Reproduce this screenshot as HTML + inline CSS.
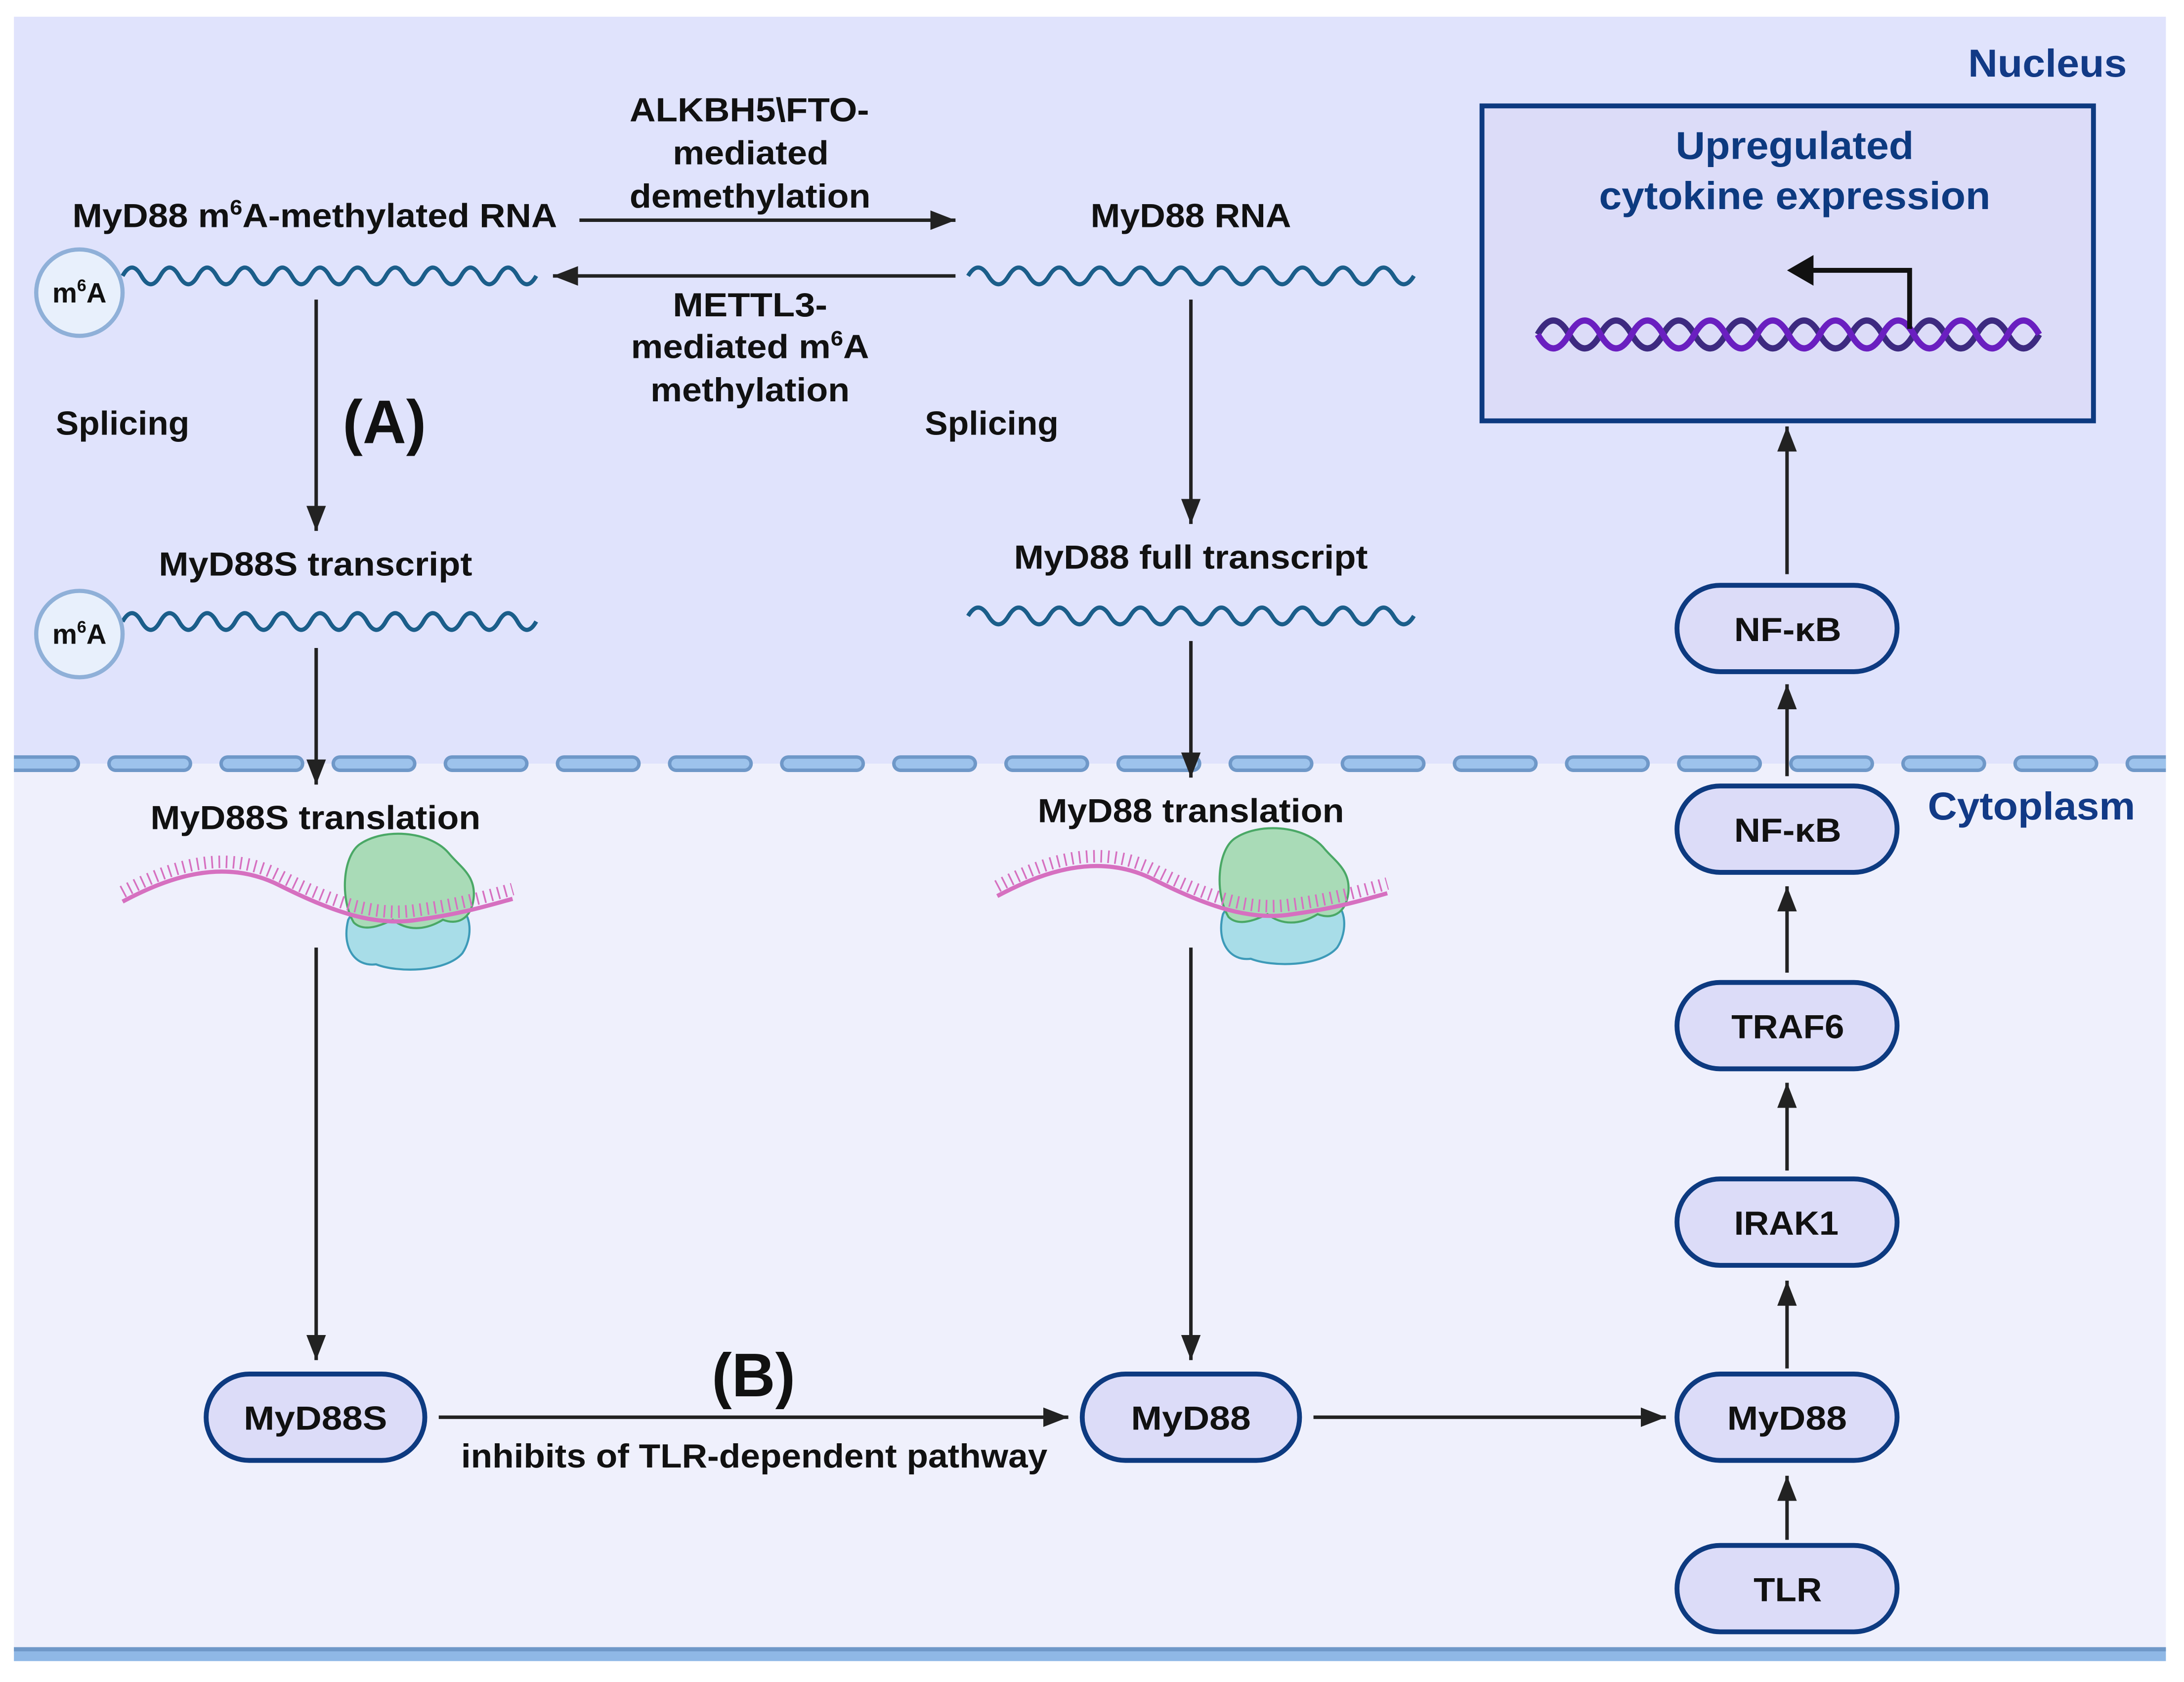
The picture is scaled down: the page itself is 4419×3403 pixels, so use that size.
<!DOCTYPE html>
<html><head><meta charset="utf-8"><style>html,body{margin:0;padding:0;background:#fff}svg{display:block}text{font-family:"Liberation Sans",sans-serif;font-weight:bold}</style></head>
<body>
<svg width="4419" height="3403" viewBox="0 0 1568 1207" preserveAspectRatio="none" xmlns="http://www.w3.org/2000/svg">
<defs>
<marker id="ah" markerUnits="userSpaceOnUse" markerWidth="20" markerHeight="14" refX="18" refY="7" orient="auto"><path d="M0 0 L18 7 L0 14 Z" fill="#222"/></marker>
<clipPath id="cp"><rect x="10" y="530" width="1545" height="40"/></clipPath>
</defs>
<rect x="0" y="0" width="1568" height="1207" fill="#fff"/>
<rect x="10" y="12" width="1545" height="536" fill="#e0e3fc"/>
<rect x="10" y="548" width="1545" height="636" fill="#eff0fc"/>
<rect x="10" y="1182" width="1545" height="10" fill="#8fb8e6"/>
<rect x="10" y="1182" width="1545" height="3" fill="#6f98c8"/>
<g clip-path="url(#cp)">
<line x1="2.5" y1="548" x2="1560" y2="548" stroke="#6f98c8" stroke-width="12" stroke-dasharray="49 31.5" stroke-linecap="round"/>
<line x1="2.5" y1="548" x2="1560" y2="548" stroke="#9dc3ec" stroke-width="7" stroke-dasharray="49 31.5" stroke-linecap="round"/>
</g>
<text x="1527" y="55" text-anchor="end" font-size="28" fill="#123a86" textLength="114" lengthAdjust="spacingAndGlyphs">Nucleus</text>
<text x="1533" y="588" text-anchor="end" font-size="28" fill="#123a86" textLength="149" lengthAdjust="spacingAndGlyphs">Cytoplasm</text>

<!-- box -->
<rect x="1064" y="76" width="439" height="226" fill="#dcdcf8" stroke="#0d3a80" stroke-width="3.5"/>
<text x="1203" y="114" font-size="28" fill="#0d3a80" textLength="171" lengthAdjust="spacingAndGlyphs">Upregulated</text>
<text x="1148" y="150" font-size="28" fill="#0d3a80" textLength="281" lengthAdjust="spacingAndGlyphs">cytokine expression</text>
<path d="M1104 240 q11.25 -20 22.5 0 t22.5 0 t22.5 0 t22.5 0 t22.5 0 t22.5 0 t22.5 0 t22.5 0 t22.5 0 t22.5 0 t22.5 0 t22.5 0 t22.5 0 t22.5 0 t22.5 0 t22.5 0" fill="none" stroke="#3d2a80" stroke-width="4.5"/>
<path d="M1104 240 q11.25 20 22.5 0 t22.5 0 t22.5 0 t22.5 0 t22.5 0 t22.5 0 t22.5 0 t22.5 0 t22.5 0 t22.5 0 t22.5 0 t22.5 0 t22.5 0 t22.5 0 t22.5 0 t22.5 0" fill="none" stroke="#6a1fc0" stroke-width="4.5"/>
<path d="M1371 236 V194 H1300" fill="none" stroke="#111" stroke-width="3.5"/>
<path d="M1283 194 L1302 183 L1302 205 Z" fill="#111"/>

<!-- RNA waves -->
<g fill="none" stroke="#1b5e8a" stroke-width="3">
<path d="M88 198 q6.75 -12 13.5 0 t13.5 0 t13.5 0 t13.5 0 t13.5 0 t13.5 0 t13.5 0 t13.5 0 t13.5 0 t13.5 0 t13.5 0 t13.5 0 t13.5 0 t13.5 0 t13.5 0 t13.5 0 t13.5 0 t13.5 0 t13.5 0 t13.5 0 t13.5 0 t13.5 0"/>
<path d="M88 446 q6.75 -12 13.5 0 t13.5 0 t13.5 0 t13.5 0 t13.5 0 t13.5 0 t13.5 0 t13.5 0 t13.5 0 t13.5 0 t13.5 0 t13.5 0 t13.5 0 t13.5 0 t13.5 0 t13.5 0 t13.5 0 t13.5 0 t13.5 0 t13.5 0 t13.5 0 t13.5 0"/>
<path d="M695 198 q7.27 -12 14.55 0 t14.55 0 t14.55 0 t14.55 0 t14.55 0 t14.55 0 t14.55 0 t14.55 0 t14.55 0 t14.55 0 t14.55 0 t14.55 0 t14.55 0 t14.55 0 t14.55 0 t14.55 0 t14.55 0 t14.55 0 t14.55 0 t14.55 0 t14.55 0 t14.55 0"/>
<path d="M695 442 q7.27 -12 14.55 0 t14.55 0 t14.55 0 t14.55 0 t14.55 0 t14.55 0 t14.55 0 t14.55 0 t14.55 0 t14.55 0 t14.55 0 t14.55 0 t14.55 0 t14.55 0 t14.55 0 t14.55 0 t14.55 0 t14.55 0 t14.55 0 t14.55 0 t14.55 0 t14.55 0"/>
</g>
<g>
<circle cx="57" cy="210" r="31" fill="#e8f0fc" stroke="#8fb0d8" stroke-width="3"/>
<text x="57" y="217" text-anchor="middle" font-size="20" fill="#111">m<tspan font-size="12" dy="-8">6</tspan><tspan dy="8">A</tspan></text>
<circle cx="57" cy="455" r="31" fill="#e8f0fc" stroke="#8fb0d8" stroke-width="3"/>
<text x="57" y="462" text-anchor="middle" font-size="20" fill="#111">m<tspan font-size="12" dy="-8">6</tspan><tspan dy="8">A</tspan></text>
</g>

<!-- labels -->
<g font-size="24" fill="#111">
<text x="52" y="163" textLength="348" lengthAdjust="spacingAndGlyphs">MyD88 m<tspan font-size="15" dy="-9">6</tspan><tspan dy="9">A-methylated RNA</tspan></text>
<text x="783" y="163" textLength="144" lengthAdjust="spacingAndGlyphs">MyD88 RNA</text>
<text x="452" y="87" textLength="172" lengthAdjust="spacingAndGlyphs">ALKBH5\FTO-</text>
<text x="483" y="118" textLength="112" lengthAdjust="spacingAndGlyphs">mediated</text>
<text x="452" y="149" textLength="173" lengthAdjust="spacingAndGlyphs">demethylation</text>
<text x="483" y="227" textLength="111" lengthAdjust="spacingAndGlyphs">METTL3-</text>
<text x="453" y="257" textLength="171" lengthAdjust="spacingAndGlyphs">mediated m<tspan font-size="15" dy="-9">6</tspan><tspan dy="9">A</tspan></text>
<text x="467" y="288" textLength="143" lengthAdjust="spacingAndGlyphs">methylation</text>
<text x="40" y="312" textLength="96" lengthAdjust="spacingAndGlyphs">Splicing</text>
<text x="664" y="312" textLength="96" lengthAdjust="spacingAndGlyphs">Splicing</text>
<text x="114" y="413" textLength="225" lengthAdjust="spacingAndGlyphs">MyD88S transcript</text>
<text x="728" y="408" textLength="254" lengthAdjust="spacingAndGlyphs">MyD88 full transcript</text>
<text x="108" y="595" textLength="237" lengthAdjust="spacingAndGlyphs">MyD88S translation</text>
<text x="745" y="590" textLength="220" lengthAdjust="spacingAndGlyphs">MyD88 translation</text>
<text x="331" y="1053" textLength="421" lengthAdjust="spacingAndGlyphs">inhibits of TLR-dependent pathway</text>
</g>
<text x="246" y="318" font-size="44" fill="#111" textLength="60" lengthAdjust="spacingAndGlyphs">(A)</text>
<text x="511" y="1002" font-size="44" fill="#111" textLength="60" lengthAdjust="spacingAndGlyphs">(B)</text>

<!-- arrows -->
<g stroke="#222" stroke-width="2.5" marker-end="url(#ah)">
<line x1="416" y1="158" x2="686" y2="158"/>
<line x1="686" y1="198" x2="397" y2="198"/>
<line x1="227" y1="215" x2="227" y2="381"/>
<line x1="855" y1="215" x2="855" y2="376"/>
<line x1="227" y1="465" x2="227" y2="563"/>
<line x1="855" y1="460" x2="855" y2="558"/>
<line x1="227" y1="680" x2="227" y2="976"/>
<line x1="855" y1="680" x2="855" y2="976"/>
<line x1="315" y1="1017" x2="767" y2="1017"/>
<line x1="943" y1="1017" x2="1196" y2="1017"/>
<line x1="1283" y1="1105" x2="1283" y2="1059"/>
<line x1="1283" y1="982" x2="1283" y2="919"/>
<line x1="1283" y1="840" x2="1283" y2="777"/>
<line x1="1283" y1="698" x2="1283" y2="636"/>
<line x1="1283" y1="557" x2="1283" y2="491"/>
<line x1="1283" y1="412" x2="1283" y2="306"/>
</g>

<!-- ribosomes -->
<g id="rib">
<path d="M250 660 C245 680 255 694 270 692 C285 698 320 698 332 684 C340 672 338 655 330 652 C315 656 300 660 285 656 C270 652 255 650 250 660 Z" fill="#a8dde8" stroke="#3d9ab8" stroke-width="1.5"/>
<path d="M254 662 C244 645 246 615 258 606 C275 594 308 596 322 612 C330 622 342 628 340 645 C338 660 328 664 318 660 C305 668 292 668 282 660 C270 666 260 668 254 662 Z" fill="#a9dbb7" stroke="#4aa866" stroke-width="1.5"/>
<path d="M88 647 C120 630 160 615 200 635 C240 655 270 665 300 660 C330 656 350 650 368 645" fill="none" stroke="#d670c0" stroke-width="3"/>
<path d="M88 640 C120 623 160 608 200 628 C240 648 270 658 300 653 C330 649 350 643 368 638" fill="none" stroke="#d670c0" stroke-width="9" stroke-dasharray="1.2 4"/>
</g>
<use href="#rib" transform="translate(628,-4)"/>

<!-- pills -->
<g fill="#dcdcf8" stroke="#0d3a80" stroke-width="3.5">
<rect x="148" y="986" width="157" height="62" rx="31"/>
<rect x="777" y="986" width="156" height="62" rx="31"/>
<rect x="1204" y="420" width="158" height="62" rx="31"/>
<rect x="1204" y="564" width="158" height="62" rx="31"/>
<rect x="1204" y="705" width="158" height="62" rx="31"/>
<rect x="1204" y="846" width="158" height="62" rx="31"/>
<rect x="1204" y="986" width="158" height="62" rx="31"/>
<rect x="1204" y="1109" width="158" height="62" rx="31"/>
</g>
<g font-size="24" fill="#111">
<text x="175" y="1026" textLength="103" lengthAdjust="spacingAndGlyphs">MyD88S</text>
<text x="812" y="1026" textLength="86" lengthAdjust="spacingAndGlyphs">MyD88</text>
<text x="1245" y="460" textLength="77" lengthAdjust="spacingAndGlyphs">NF-κB</text>
<text x="1245" y="604" textLength="77" lengthAdjust="spacingAndGlyphs">NF-κB</text>
<text x="1243" y="745" textLength="81" lengthAdjust="spacingAndGlyphs">TRAF6</text>
<text x="1245" y="886" textLength="75" lengthAdjust="spacingAndGlyphs">IRAK1</text>
<text x="1240" y="1026" textLength="86" lengthAdjust="spacingAndGlyphs">MyD88</text>
<text x="1259" y="1149" textLength="49" lengthAdjust="spacingAndGlyphs">TLR</text>
</g>
</svg>
</body></html>
